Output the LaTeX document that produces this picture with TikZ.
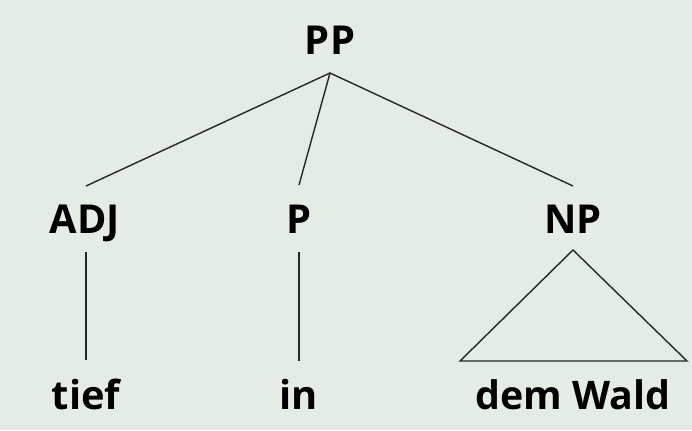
\documentclass[tikz,border=0pt]{standalone}
\usepackage{fontspec}
\setmainfont{Open Sans}
\definecolor{bg}{RGB}{228,237,228}
\begin{document}
\begin{tikzpicture}[x=1bp,y=-1bp,
  lab/.style={font=\fontsize{40}{42}\selectfont\bfseries, anchor=base, inner sep=0pt, text=black},
  edge/.style={draw=black!85, line width=1.4bp}]
\fill[bg] (0,0) rectangle (692,430);
\useasboundingbox (0,0) rectangle (692,430);
\node[lab] (pp) at (330,54) {PP};
\node[lab] (adj) at (85,233) {ADJ};
\node[lab] (p) at (299,233) {P};
\node[lab] (np) at (573,233) {NP};
\node[lab] (tief) at (86,409) {tief};
\node[lab] (in) at (299,409) {in};
\node[lab, font=\fontsize{39.5}{42}\selectfont\bfseries] (wald) at (573,409) {dem Wald};
\coordinate (top) at (330,73);
\coordinate (adjtop) at (86,186);
\coordinate (ptop) at (299,185);
\coordinate (nptop) at (573,186);
\coordinate (adjbot) at (86,252);
\coordinate (tiefup) at (86,360);
\coordinate (pbot) at (299,252);
\coordinate (inup) at (299,361);
\coordinate (apex) at (573,250);
\coordinate (bl) at (460,361);
\coordinate (br) at (687,361);
\draw[edge] (adjtop) -- (top) -- (nptop);
\draw[edge] (top) -- (ptop);
\draw[edge] (adjbot) -- (tiefup);
\draw[edge] (pbot) -- (inup);
\draw[edge, line join=miter] (apex) -- (bl) -- (br) -- cycle;
\end{tikzpicture}
\end{document}
